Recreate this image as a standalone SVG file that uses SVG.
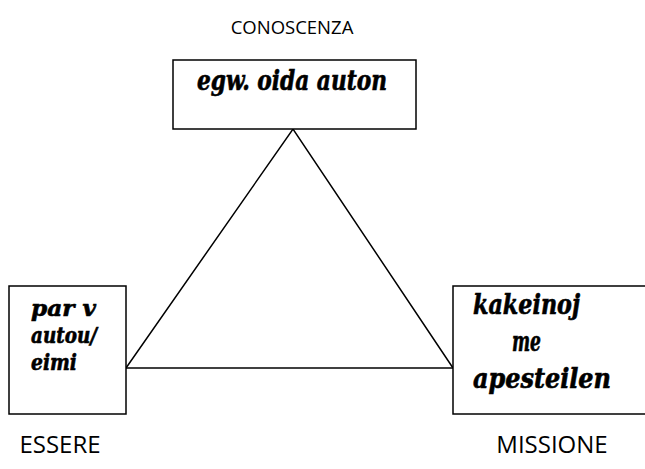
<svg xmlns="http://www.w3.org/2000/svg" width="645" height="469" viewBox="0 0 645 469">
<style>
.box{fill:#fff;stroke:#000;stroke-width:1.5}
.lbl{font-family:"Open Sans","Liberation Sans",sans-serif;fill:#000;text-anchor:middle}
.gk{font-family:"DejaVu Serif Condensed","DejaVu Serif","Liberation Serif",serif;font-stretch:condensed;font-weight:bold;font-style:italic;font-size:28px;fill:#000;stroke:#000;stroke-width:0.6}
.sm{font-size:23px}
.ln{stroke:#000;stroke-width:1.5;fill:none}
</style>
<rect width="645" height="469" fill="#fff"/>
<g id="connectors">
<polyline class="ln" points="126,368 293,129 453,368"/>
<line class="ln" x1="126" y1="368" x2="453" y2="368"/>
</g>
<g id="top">
<rect class="box" x="173" y="60" width="243" height="69"/>
<text class="gk" x="197" y="90" textLength="190" lengthAdjust="spacingAndGlyphs">egw. oida auton</text>
<text class="lbl" x="292" y="34" font-size="18.5">CONOSCENZA</text>
</g>
<g id="left">
<rect class="box" x="9" y="286" width="117" height="128"/>
<text class="gk sm" x="31" y="316" textLength="65" lengthAdjust="spacingAndGlyphs">par v</text>
<text class="gk sm" x="31" y="343" textLength="66" lengthAdjust="spacingAndGlyphs">autou/</text>
<text class="gk sm" x="31" y="370" textLength="46" lengthAdjust="spacingAndGlyphs">eimi</text>
<text class="lbl" x="60" y="453" font-size="24">ESSERE</text>
</g>
<g id="right">
<rect class="box" x="453" y="286" width="200" height="128"/>
<text class="gk" x="473" y="314" textLength="107" lengthAdjust="spacingAndGlyphs">kakeinoj</text>
<text class="gk" x="512" y="351" textLength="29" lengthAdjust="spacingAndGlyphs">me</text>
<text class="gk" x="473" y="388" textLength="138" lengthAdjust="spacingAndGlyphs">apesteilen</text>
<text class="lbl" x="552" y="453" font-size="24">MISSIONE</text>
</g>
</svg>
